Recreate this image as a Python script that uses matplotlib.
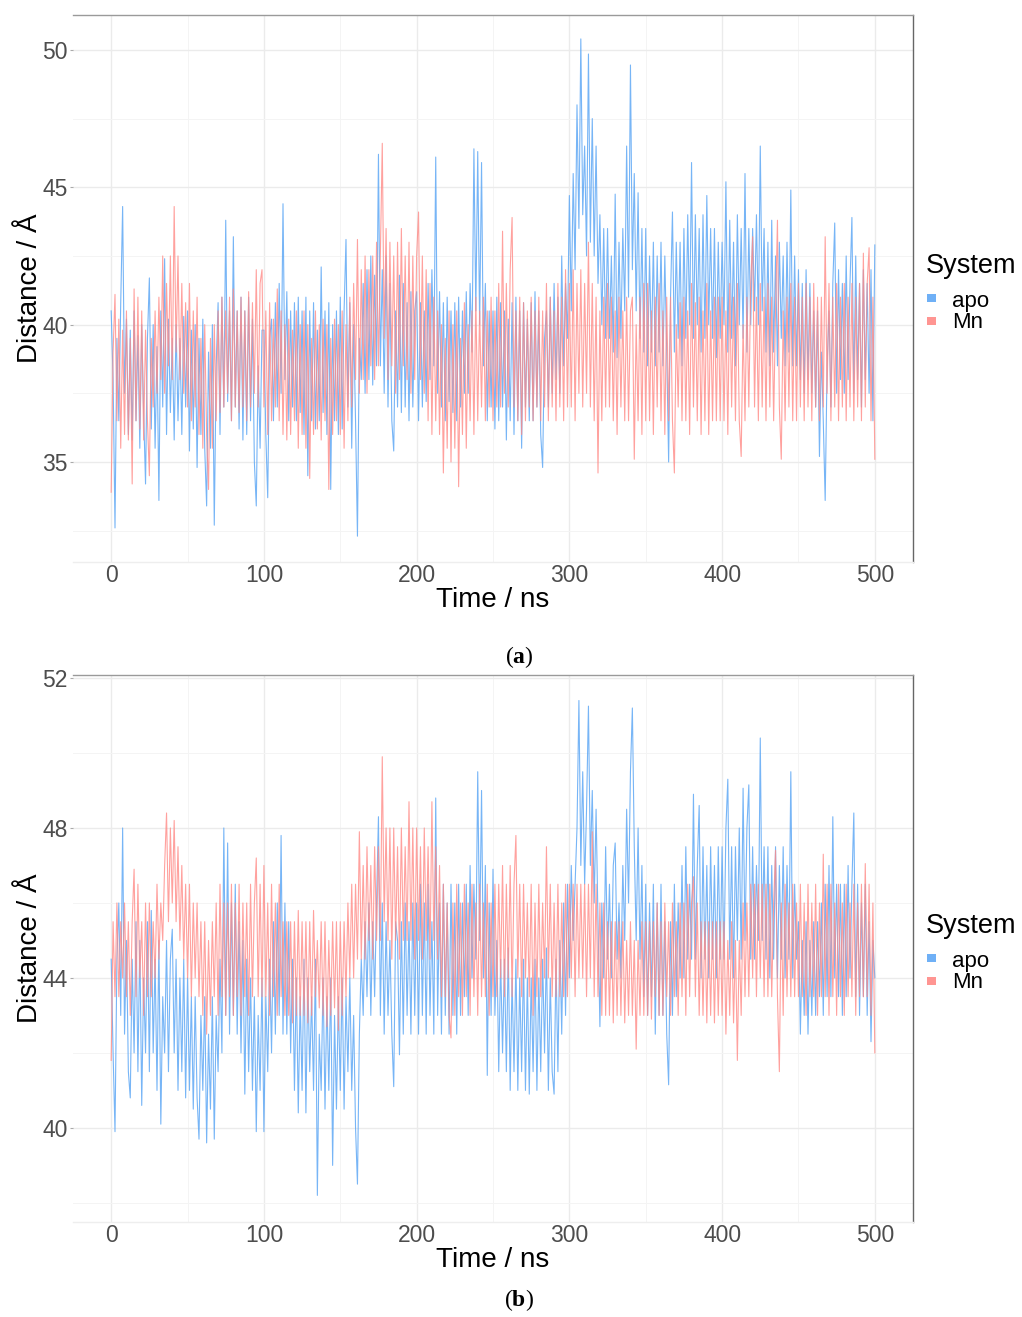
import numpy as np
import matplotlib
matplotlib.use("Agg")
import matplotlib.pyplot as plt
from matplotlib.patches import Rectangle

# distance traces, one value every 1.25 ns (0 .. 500 ns)
apo_a = [
    40.5, 38.0, 32.6, 39.5, 36.5, 40.8, 44.3, 37.5, 40.2, 36.0, 39.8, 35.8, 40.5, 36.5, 39.6, 35.5, 40.0, 36.8, 34.2, 39.5,
    41.7, 36.2, 40.0, 35.5, 39.2, 33.6, 40.5, 37.0, 42.4, 36.0, 40.2, 36.8, 39.5, 35.8, 40.0, 36.5, 39.5, 36.0, 40.3, 37.0,
    40.5, 35.4, 39.8, 36.2, 40.0, 34.8, 39.5, 36.0, 40.2, 35.5, 33.4, 39.0, 35.5, 40.0, 32.7, 38.5, 40.8, 36.0, 41.0, 37.0,
    43.8, 37.2, 40.5, 36.5, 43.2, 37.0, 40.5, 36.2, 41.0, 35.8, 40.5, 36.0, 41.0, 36.5, 40.2, 35.0, 33.4, 38.5, 35.5, 39.8,
    39.8, 36.0, 33.7, 39.5, 40.2, 36.5, 40.8, 37.0, 41.5, 37.5, 44.4, 38.0, 41.2, 36.5, 40.5, 37.0, 40.8, 36.5, 41.0, 36.8,
    40.5, 36.0, 41.0, 34.5, 40.5, 36.5, 40.8, 36.2, 39.8, 36.5, 42.1, 36.8, 40.5, 36.0, 40.8, 34.0, 40.0, 36.5, 40.5, 36.0,
    41.0, 36.2, 40.5, 43.1, 37.0, 40.8, 35.5, 40.0, 36.5, 32.3, 39.5, 38.0, 41.5, 37.5, 42.0, 38.0, 42.5, 37.8, 41.8, 38.5,
    46.2, 38.5, 42.0, 37.5, 42.5, 37.0, 41.5, 36.5, 35.4, 40.5, 37.0, 41.8, 36.8, 41.5, 37.0, 40.8, 36.5, 41.2, 37.0, 40.5,
    41.2, 36.5, 40.8, 37.0, 40.5, 37.2, 41.5, 38.0, 42.0, 38.5, 46.1, 37.5, 41.2, 37.0, 40.8, 36.5, 41.0, 37.2, 40.5, 36.8,
    40.8, 36.5, 41.0, 37.0, 40.5, 37.5, 41.2, 37.5, 41.5, 39.0, 46.4, 40.5, 46.3, 40.0, 45.9, 38.5, 41.5, 36.5, 40.5, 37.0,
    40.5, 36.2, 41.0, 36.5, 40.8, 37.0, 40.5, 35.8, 40.2, 36.5, 40.8, 36.0, 41.0, 36.5, 40.5, 35.5, 40.8, 37.0, 40.2, 36.5,
    40.8, 36.5, 41.2, 37.0, 40.5, 36.0, 34.8, 39.5, 40.5, 37.0, 41.0, 37.5, 41.5, 38.0, 41.0, 37.5, 42.5, 38.5, 41.5, 39.5,
    44.7, 40.5, 45.5, 42.0, 48.0, 43.5, 50.4, 44.0, 46.5, 42.5, 49.85, 43.0, 47.5, 42.5, 46.5, 41.5, 44.0, 40.0, 43.5, 39.5,
    43.5, 39.5, 42.5, 39.0, 44.75, 38.8, 43.0, 39.5, 43.5, 40.5, 46.5, 41.0, 49.45, 42.0, 45.5, 40.5, 44.8, 39.5, 43.5, 39.0,
    43.5, 38.5, 42.5, 39.0, 43.0, 38.5, 42.5, 39.0, 43.0, 38.5, 42.5, 39.0, 35.0, 41.0, 44.1, 39.0, 43.0, 39.5, 43.0, 38.5,
    43.5, 39.5, 44.0, 40.0, 45.9, 39.5, 44.0, 40.0, 43.5, 39.0, 44.0, 39.5, 44.7, 40.0, 43.5, 39.5, 43.5, 38.8, 43.0, 39.5,
    43.0, 40.0, 45.2, 39.0, 43.8, 39.5, 43.0, 38.5, 44.0, 40.0, 43.5, 39.5, 45.5, 39.0, 43.5, 40.0, 43.5, 40.5, 44.0, 40.0,
    46.5, 40.5, 43.5, 39.0, 43.0, 38.5, 43.8, 39.0, 42.5, 38.5, 43.0, 39.5, 42.5, 38.5, 43.0, 39.0, 44.9, 38.5, 42.5, 38.5,
    42.0, 38.0, 41.5, 37.5, 42.0, 38.0, 41.5, 37.5, 40.5, 37.0, 40.5, 35.2, 39.0, 36.5, 33.6, 38.5, 40.5, 37.0, 41.5, 43.7,
    37.5, 42.0, 38.0, 41.5, 37.5, 42.5, 38.0, 41.5, 43.9, 37.5, 42.5, 38.0, 41.5, 37.0, 42.0, 38.0, 41.5, 37.5, 42.0, 36.5,
    42.9,
]

mn_a = [
    33.9, 39.0, 41.1, 36.5, 40.2, 35.5, 39.8, 36.0, 40.5, 35.8, 39.5, 34.2, 41.3, 36.5, 41.0, 36.2, 40.5, 35.8, 39.8, 36.5,
    34.5, 39.5, 37.0, 40.5, 37.5, 41.0, 38.0, 42.5, 37.5, 41.5, 38.5, 42.5, 38.0, 44.3, 39.0, 42.5, 38.0, 41.5, 37.5, 40.8,
    37.0, 41.5, 36.5, 40.5, 37.0, 41.0, 36.0, 39.5, 35.5, 40.0, 36.0, 34.0, 39.5, 35.5, 40.0, 36.5, 40.5, 36.8, 41.0, 37.0,
    40.5, 37.5, 41.0, 36.5, 41.3, 37.0, 40.5, 36.8, 41.0, 37.0, 40.5, 36.5, 41.2, 37.0, 40.8, 37.5, 42.0, 37.0, 41.5, 42.0,
    37.0, 40.5, 36.0, 40.8, 36.5, 40.2, 37.0, 41.3, 36.5, 40.5, 36.0, 40.0, 35.8, 40.2, 36.0, 39.8, 36.5, 40.5, 35.5, 40.0,
    36.0, 40.5, 35.5, 40.0, 34.4, 39.5, 36.0, 40.5, 36.2, 40.0, 35.8, 40.2, 36.5, 40.0, 34.0, 39.5, 36.0, 40.2, 36.5, 40.0,
    36.0, 40.5, 35.5, 40.0, 36.5, 41.0, 37.0, 41.5, 38.0, 43.1, 37.5, 42.0, 38.0, 42.5, 37.5, 42.0, 38.5, 42.5, 38.0, 43.0,
    38.5, 42.5, 46.6, 39.5, 43.5, 38.0, 43.0, 38.5, 42.5, 37.5, 43.0, 38.0, 43.5, 38.5, 42.5, 38.0, 43.0, 37.5, 42.5, 38.0,
    42.5, 44.1, 38.0, 42.5, 37.5, 42.0, 36.5, 41.5, 36.0, 41.0, 36.5, 40.5, 36.0, 40.0, 34.6, 39.5, 35.5, 40.5, 35.0, 40.0,
    35.5, 40.5, 34.1, 39.5, 36.0, 40.8, 35.5, 40.0, 36.5, 40.5, 36.0, 41.0, 36.5, 40.5, 37.0, 41.0, 36.5, 40.5, 37.0, 41.0,
    36.5, 40.5, 37.0, 41.5, 37.0, 43.4, 37.5, 41.5, 37.0, 42.0, 43.9, 37.0, 40.5, 36.5, 41.0, 36.0, 40.8, 36.5, 40.5, 37.0,
    41.0, 36.5, 40.5, 37.0, 41.0, 36.5, 40.5, 37.0, 41.5, 36.5, 41.0, 37.0, 40.5, 36.5, 41.5, 37.0, 41.0, 36.5, 42.0, 37.0,
    41.5, 37.0, 42.0, 36.5, 41.5, 37.5, 42.0, 37.0, 41.5, 37.5, 43.0, 37.0, 41.5, 36.5, 41.0, 34.6, 40.5, 36.5, 41.0, 37.0,
    41.5, 37.0, 41.0, 36.5, 40.5, 36.0, 41.0, 37.0, 40.5, 36.5, 41.0, 36.5, 40.5, 41.0, 35.1, 40.0, 36.5, 41.0, 36.0, 41.5,
    36.5, 41.5, 36.5, 40.5, 36.0, 41.0, 37.0, 41.5, 36.5, 40.5, 36.0, 41.0, 36.5, 41.0, 36.5, 34.6, 40.0, 37.0, 40.8, 36.5,
    41.0, 36.5, 40.5, 36.0, 41.5, 37.0, 40.8, 36.5, 41.0, 36.0, 40.5, 36.5, 41.5, 36.0, 40.5, 36.5, 41.0, 36.5, 41.0, 36.5,
    41.0, 36.5, 40.5, 36.0, 41.5, 37.0, 41.0, 36.5, 41.5, 36.5, 35.2, 40.0, 36.5, 41.0, 37.0, 41.5, 43.2, 37.0, 41.0, 36.5,
    41.5, 37.0, 41.0, 36.5, 41.5, 37.0, 41.0, 36.5, 40.5, 43.8, 37.0, 35.1, 40.5, 36.5, 41.0, 37.0, 41.5, 36.5, 41.0, 36.5,
    41.5, 37.0, 41.0, 36.5, 41.5, 37.0, 41.0, 36.5, 41.5, 37.0, 41.0, 36.5, 41.0, 37.0, 43.2, 37.5, 41.5, 36.5, 41.0, 37.0,
    41.5, 36.5, 41.0, 37.0, 41.5, 36.5, 41.0, 37.0, 41.5, 36.5, 41.0, 37.0, 41.5, 36.5, 42.6, 37.0, 41.5, 42.8, 36.5, 41.0,
    35.1,
]

apo_b = [
    44.5, 42.0, 39.9, 44.5, 46.0, 43.0, 48.0, 42.5, 45.0, 41.5, 40.8, 44.5, 42.0, 45.5, 41.5, 45.0, 40.6, 44.0, 42.0, 45.5,
    41.5, 45.8, 42.0, 44.5, 41.0, 45.0, 40.1, 43.5, 42.0, 45.0, 41.5, 44.5, 45.3, 42.0, 44.5, 41.0, 44.0, 41.5, 44.5, 40.8,
    44.0, 41.0, 43.5, 40.5, 43.5, 40.8, 39.7, 43.0, 41.0, 43.5, 39.6, 42.5, 40.5, 43.5, 39.7, 43.0, 41.5, 44.5, 42.0, 48.0,
    43.0, 47.6, 42.5, 46.0, 43.0, 46.5, 42.5, 45.5, 42.0, 45.0, 40.9, 44.5, 41.5, 44.0, 41.0, 43.5, 39.9, 43.0, 41.0, 44.0,
    39.9, 43.5, 41.5, 44.5, 42.0, 45.5, 42.5, 46.0, 43.0, 47.8, 42.5, 46.0, 42.5, 45.5, 42.0, 44.5, 41.0, 44.0, 40.4, 43.5,
    41.0, 44.5, 40.4, 44.0, 41.5, 43.5, 41.0, 44.5, 38.2, 42.5, 41.0, 44.0, 40.5, 43.5, 41.0, 44.0, 39.0, 43.0, 40.5, 43.5,
    41.0, 44.0, 40.5, 43.5, 41.5, 44.0, 41.0, 43.0, 40.0, 38.5, 42.5, 44.5, 43.0, 45.5, 43.5, 46.0, 43.0, 45.5, 43.5, 46.0,
    48.3, 43.0, 46.0, 42.5, 45.5, 43.0, 45.0, 42.5, 41.1, 45.5, 45.0, 41.95, 45.5, 42.5, 46.0, 43.0, 45.5, 42.5, 46.0, 43.0,
    46.0, 42.5, 46.5, 43.0, 46.0, 42.5, 46.5, 43.0, 45.5, 42.5, 48.8, 43.0, 46.0, 42.5, 46.5, 43.0, 46.0, 42.5, 46.5, 43.0,
    46.0, 42.5, 46.5, 43.0, 46.0, 43.5, 46.5, 43.0, 47.0, 44.0, 46.5, 44.5, 49.5, 45.0, 49.0, 44.0, 47.0, 41.4, 46.0, 43.0,
    46.9, 43.0, 45.0, 41.5, 44.5, 42.0, 44.5, 41.5, 44.8, 41.0, 44.0, 41.5, 44.5, 41.0, 44.0, 41.5, 44.5, 41.0, 44.0, 40.9,
    44.0, 41.5, 44.5, 41.0, 44.0, 41.5, 44.5, 42.0, 44.8, 41.0, 44.0, 41.5, 40.9, 44.5, 41.5, 45.0, 42.5, 46.0, 43.0, 46.5,
    44.0, 47.0, 45.0, 46.5, 48.0, 51.4, 47.0, 49.5, 46.5, 48.5, 51.25, 47.0, 49.0, 46.0, 48.5, 45.5, 42.7, 46.0, 44.0, 47.5,
    44.5, 46.5, 44.0, 47.0, 47.6, 44.5, 46.0, 44.0, 47.0, 45.0, 48.5, 46.0, 49.5, 51.2, 47.5, 45.0, 48.0, 44.5, 47.0, 43.5,
    46.5, 43.0, 46.0, 43.5, 46.5, 42.5, 46.0, 43.0, 46.5, 43.0, 45.5, 42.5, 41.15, 45.5, 43.0, 46.5, 43.5, 46.0, 44.0, 47.0,
    44.0, 47.5, 44.5, 46.5, 44.5, 48.9, 44.5, 47.0, 48.6, 44.0, 47.5, 44.5, 47.0, 44.0, 47.5, 44.5, 47.0, 44.0, 47.5, 44.5,
    47.5, 44.5, 48.0, 49.3, 44.5, 47.5, 44.0, 47.5, 45.0, 48.0, 44.5, 49.06, 45.0, 48.0, 49.15, 44.5, 47.5, 44.5, 47.0, 45.0,
    50.4, 45.0, 47.5, 44.5, 47.5, 44.0, 47.0, 44.5, 47.5, 44.0, 47.0, 44.5, 47.5, 44.0, 47.0, 44.5, 49.5, 44.0, 46.5, 44.5,
    45.5, 42.5, 45.0, 43.0, 45.5, 42.5, 45.0, 43.0, 45.5, 43.0, 45.5, 43.5, 46.0, 43.0, 46.5, 43.5, 47.0, 43.5, 48.3, 44.0,
    46.5, 43.5, 46.5, 43.0, 46.5, 43.5, 47.0, 44.0, 46.5, 48.4, 43.5, 46.5, 43.0, 46.0, 43.5, 46.5, 43.0, 45.5, 42.3, 45.0,
    44.0,
]

mn_b = [
    41.8, 45.5, 43.5, 46.0, 43.5, 45.5, 44.0, 46.0, 43.5, 45.5, 43.0, 45.5, 46.9, 43.5, 46.5, 44.0, 45.5, 43.0, 46.0, 43.5,
    46.0, 43.5, 45.5, 44.0, 46.5, 44.5, 46.0, 45.0, 47.0, 48.4, 45.5, 48.0, 46.0, 48.2, 45.5, 47.5, 45.0, 47.0, 44.5, 46.5,
    44.0, 46.5, 43.5, 46.0, 44.0, 46.0, 43.5, 45.5, 43.0, 45.5, 42.5, 45.0, 43.0, 45.5, 43.5, 46.0, 43.0, 46.5, 43.5, 46.0,
    43.0, 46.0, 43.5, 46.5, 43.0, 46.0, 43.5, 46.5, 43.0, 46.0, 43.5, 46.0, 43.0, 46.5, 43.5, 46.0, 47.2, 43.5, 46.5, 43.5,
    47.0, 43.5, 46.0, 43.0, 46.5, 43.5, 46.0, 43.0, 46.5, 43.5, 45.5, 43.0, 45.5, 43.0, 45.5, 42.8, 45.5, 43.0, 45.8, 43.0,
    45.5, 43.0, 45.5, 42.8, 45.5, 43.0, 45.8, 43.5, 45.0, 43.2, 45.5, 43.0, 45.5, 42.7, 45.0, 43.0, 45.5, 43.2, 45.5, 42.6,
    45.5, 43.0, 45.5, 43.5, 46.0, 44.0, 46.5, 44.0, 46.5, 44.5, 47.9, 44.5, 47.0, 44.5, 47.5, 45.0, 47.0, 44.5, 47.5, 45.0,
    47.5, 45.0, 49.9, 45.5, 48.0, 45.0, 48.0, 44.5, 48.0, 45.0, 47.5, 44.5, 48.0, 45.0, 47.5, 45.0, 48.7, 45.0, 48.0, 44.5,
    48.0, 45.0, 47.5, 44.5, 48.0, 45.0, 47.5, 44.5, 48.7, 45.0, 47.5, 44.5, 47.0, 43.5, 46.5, 43.5, 46.0, 43.0, 42.4, 46.0,
    43.0, 46.5, 43.5, 46.0, 43.0, 46.5, 43.5, 46.0, 43.0, 46.5, 43.5, 46.0, 43.0, 46.5, 43.5, 46.0, 43.5, 46.5, 43.0, 46.0,
    43.5, 46.5, 43.5, 46.5, 44.0, 47.0, 43.5, 46.5, 44.0, 47.0, 43.5, 46.5, 47.8, 44.0, 46.5, 43.5, 46.5, 44.0, 46.0, 43.5,
    46.5, 43.0, 46.0, 43.5, 46.5, 43.5, 46.0, 44.0, 47.5, 44.0, 46.5, 43.5, 46.0, 43.5, 46.5, 43.5, 46.0, 43.5, 46.5, 43.5,
    46.5, 44.0, 46.5, 43.5, 46.5, 44.0, 46.5, 44.0, 46.5, 43.5, 46.5, 44.0, 47.9, 43.5, 46.5, 43.5, 46.0, 43.0, 46.0, 43.0,
    45.5, 43.0, 45.5, 42.8, 45.5, 43.0, 45.5, 43.0, 45.5, 42.8, 45.0, 43.0, 45.5, 43.0, 45.0, 42.1, 45.0, 43.0, 45.5, 43.0,
    45.5, 43.0, 45.5, 42.9, 45.5, 43.5, 46.0, 43.0, 45.5, 43.0, 46.0, 43.5, 45.5, 43.0, 46.0, 43.5, 45.5, 43.0, 46.0, 43.5,
    46.0, 43.0, 46.5, 43.5, 46.0, 46.7, 43.5, 46.0, 43.0, 45.5, 43.0, 45.5, 42.8, 45.5, 43.0, 45.5, 42.8, 45.5, 43.0, 45.5,
    43.0, 45.5, 42.5, 45.0, 43.0, 45.5, 42.8, 45.0, 41.8, 45.0, 43.0, 46.0, 43.5, 46.0, 43.5, 46.5, 44.0, 46.5, 43.5, 46.5,
    44.0, 46.5, 43.5, 46.5, 43.5, 46.5, 43.5, 46.0, 47.4, 43.5, 41.5, 46.0, 43.0, 46.5, 43.5, 46.0, 43.5, 46.5, 43.5, 46.0,
    43.5, 46.5, 43.5, 46.0, 43.0, 46.5, 43.5, 46.0, 43.5, 46.5, 43.0, 46.0, 43.5, 47.3, 43.5, 46.5, 43.0, 46.5, 43.5, 46.0,
    43.0, 46.5, 43.5, 46.0, 43.0, 46.5, 43.5, 46.0, 43.5, 46.5, 43.0, 46.0, 43.5, 46.5, 43.5, 47.05, 43.5, 46.5, 43.0, 46.0,
    42.0,
]

time_step = 1.25
systems = ["apo", "Mn"]
colors = {"apo": "#5fa8f5", "Mn": "#ff8a86"}
panels = [
    {"apo": apo_a, "Mn": mn_a, "ylim": (31.36, 51.27), "major": [35, 40, 45, 50],
     "minor": [32.5, 37.5, 42.5, 47.5], "tag": "a"},
    {"apo": apo_b, "Mn": mn_b, "ylim": (37.49, 52.08), "major": [40, 44, 48, 52],
     "minor": [38, 42, 46, 50], "tag": "b"},
]

plt.rcParams['font.family'] = ['Liberation Sans', 'DejaVu Sans']
plt.rcParams['mathtext.fontset'] = 'custom'
plt.rcParams['mathtext.rm'] = 'Liberation Serif'
plt.rcParams['mathtext.bf'] = 'Liberation Serif:bold'

fig = plt.figure(figsize=(10.22, 13.17), dpi=100)
W, H = 1022, 1317

# axes boxes in pixels: left, top, right, bottom; caption y
boxes = [(73, 15, 913, 562, 657), (73, 675, 913, 1222, 1300)]

for p, (l, t, r, b, cap_y) in zip(panels, boxes):
    ax = fig.add_axes([l / W, 1 - b / H, (r - l) / W, (b - t) / H])
    for s in systems:
        vals = np.array(p[s])
        times = np.arange(len(vals)) * time_step
        alpha = 0.85 if s == "apo" else 0.8
        ax.plot(times, vals, color=colors[s], lw=0.8, alpha=alpha, label=s)

    ax.set_xlim(-25, 525)
    ax.set_ylim(*p["ylim"])
    ax.set_xticks([0, 100, 200, 300, 400, 500])
    ax.set_xticks([50, 150, 250, 350, 450], minor=True)
    ax.set_yticks(p["major"])
    ax.set_yticks(p["minor"], minor=True)
    ax.grid(which="major", color="#ebebeb", lw=1.0)
    ax.grid(which="minor", color="#f4f4f4", lw=0.7)
    ax.set_axisbelow(True)

    ax.tick_params(axis="both", which="major", labelsize=16.5, labelcolor="#4d4d4d")
    ax.tick_params(axis="y", which="major", length=2, color="#aaaaaa", pad=2)
    ax.tick_params(axis="x", which="major", length=0, pad=1.5)
    ax.tick_params(which="minor", length=0)

    ax.spines["left"].set_visible(False)
    ax.spines["bottom"].set_color("#eeeeee")
    ax.spines["top"].set_color("#9a9a9a")
    ax.spines["right"].set_color("#666666")
    for sp in ax.spines.values():
        sp.set_linewidth(1.0)

    ax.set_xlabel("Time / ns", fontsize=20, labelpad=0)
    ax.set_ylabel("Distance / Å", fontsize=20, labelpad=-1)

    # legend, drawn by hand to get ggplot's tight key layout
    fig.text(926 / W, 1 - (t + 258) / H, "System", fontsize=19.5, ha="left", va="baseline")
    for k, s in enumerate(systems):
        key_top = t + 279 + 23 * k
        fig.add_artist(Rectangle((927 / W, 1 - (key_top + 8) / H), 9 / W, 8 / H,
                                 transform=fig.transFigure, color=colors[s], alpha=0.9, lw=0))
        fig.text(952 / W, 1 - (t + 292 + 21 * k) / H, s, fontsize=16, ha="left", va="baseline")

    fig.text(519 / W, 1 - cap_y / H, r"$(\mathbf{" + p["tag"] + "})$",
             fontsize=17, ha="center", va="center")

fig.savefig("out.png", dpi=100)
